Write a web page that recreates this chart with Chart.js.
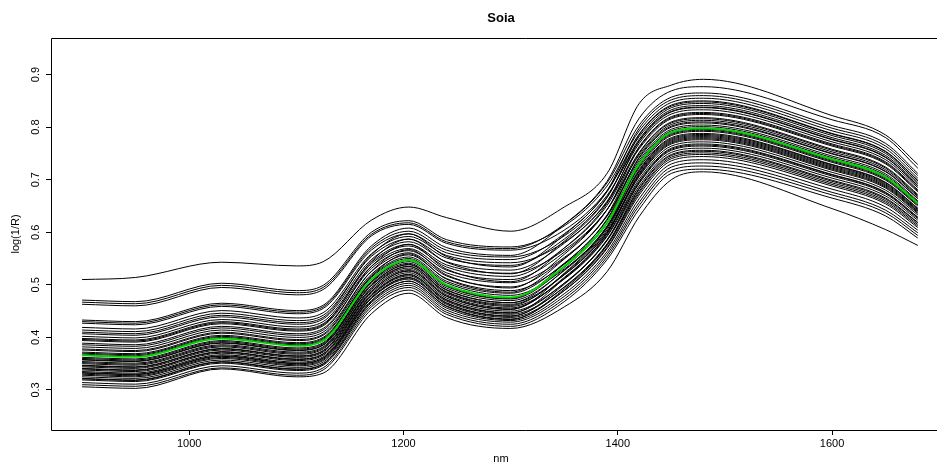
<!DOCTYPE html>
<html>
<head>
<meta charset="utf-8">
<script src="https://cdn.jsdelivr.net/npm/chart.js@4.4.1/dist/chart.umd.min.js"></script>
<style>
  html, body { margin: 0; padding: 0; background: #fff; overflow: hidden; }
  #wrap { width: 937px; height: 466px; overflow: hidden; }
</style>
</head>
<body>
<div id="wrap"><canvas id="soiaChart" width="1000" height="466"></canvas></div>
<script>
const wavelengths = [900, 950, 1030, 1100, 1125, 1170, 1205, 1240, 1300, 1350, 1390, 1420, 1450, 1480, 1600, 1650, 1680];

// green mean spectrum
const meanSpectrum = [.366, .363, .398, .384, .394, .510, .547, .500, .476, .535, .618, .730, .790, .798, .739, .705, .655];

// individual spectra, log(1/R)
const s01 = [.510, .514, .543, .536, .544, .623, .648, .628, .602, .648, .712, .845, .880, .891, .822, .785, .729];
const s02 = [.471, .468, .503, .489, .499, .600, .622, .586, .572, .612, .688, .793, .847, .855, .793, .759, .703];
const s03 = [.467, .464, .499, .485, .495, .596, .618, .582, .569, .615, .694, .804, .857, .865, .803, .769, .712];
const s04 = [.463, .460, .495, .481, .491, .593, .615, .579, .566, .604, .679, .782, .837, .845, .784, .750, .695];
const s05 = [.433, .430, .465, .451, .461, .574, .608, .571, .556, .615, .697, .817, .869, .877, .814, .780, .722];
const s06 = [.430, .427, .462, .448, .458, .570, .602, .566, .553, .593, .670, .773, .829, .837, .776, .742, .688];
const s07 = [.427, .424, .459, .445, .455, .566, .597, .561, .548, .597, .677, .787, .842, .850, .788, .754, .699];
const s08 = [.419, .416, .451, .437, .447, .559, .592, .556, .542, .581, .657, .759, .816, .824, .764, .730, .677];
const s09 = [.414, .411, .446, .432, .442, .554, .587, .551, .537, .587, .667, .777, .833, .841, .780, .746, .692];
const s10 = [.407, .404, .439, .425, .435, .548, .582, .544, .528, .579, .659, .769, .825, .833, .772, .738, .685];
const s11 = [.402, .399, .434, .420, .430, .543, .577, .538, .522, .566, .643, .747, .805, .813, .753, .719, .668];
const s12 = [.398, .395, .430, .416, .426, .540, .574, .534, .516, .570, .651, .763, .820, .828, .768, .734, .681];
const s13 = [.394, .391, .426, .412, .422, .535, .569, .528, .510, .562, .643, .752, .810, .818, .758, .724, .672];
const s14 = [.389, .386, .421, .407, .417, .531, .565, .523, .504, .552, .631, .737, .796, .804, .745, .711, .660];
const s15 = [.382, .379, .414, .400, .410, .525, .561, .517, .496, .550, .631, .741, .800, .808, .749, .715, .664];
const s16 = [.376, .373, .408, .394, .404, .520, .557, .512, .489, .539, .618, .723, .784, .792, .733, .699, .650];
const s17 = [.372, .369, .404, .390, .400, .516, .553, .507, .484, .541, .623, .733, .793, .801, .742, .708, .658];
const s18 = [.370, .367, .402, .388, .398, .514, .550, .504, .480, .530, .610, .715, .776, .784, .726, .692, .643];
const s19 = [.362, .359, .394, .380, .390, .506, .544, .497, .473, .533, .617, .730, .790, .798, .739, .705, .655];
const s20 = [.360, .357, .392, .378, .388, .504, .541, .494, .470, .527, .609, .719, .780, .788, .729, .695, .646];
const s21 = [.357, .354, .389, .375, .385, .501, .538, .490, .466, .519, .600, .706, .768, .776, .718, .684, .636];
const s22 = [.354, .351, .386, .372, .382, .498, .535, .487, .463, .519, .602, .710, .772, .780, .722, .688, .640];
const s23 = [.350, .347, .382, .368, .378, .494, .532, .484, .459, .511, .592, .697, .760, .768, .710, .676, .629];
const s24 = [.347, .344, .379, .365, .375, .491, .529, .481, .456, .512, .594, .701, .764, .772, .714, .680, .633];
const s25 = [.344, .341, .376, .362, .372, .488, .526, .478, .453, .522, .609, .728, .788, .796, .737, .703, .653];
const s26 = [.341, .338, .373, .359, .369, .485, .523, .475, .450, .503, .584, .688, .752, .760, .703, .669, .623];
const s27 = [.338, .335, .370, .356, .366, .482, .520, .472, .447, .503, .586, .693, .756, .764, .707, .673, .626];
const s28 = [.335, .332, .367, .353, .363, .479, .517, .469, .444, .495, .576, .678, .743, .751, .694, .660, .615];
const s29 = [.332, .329, .364, .350, .360, .476, .514, .466, .441, .496, .578, .684, .748, .756, .699, .665, .619];
const s30 = [.330, .327, .362, .348, .358, .474, .511, .463, .438, .489, .569, .671, .736, .744, .688, .654, .609];
const s31 = [.325, .322, .357, .343, .353, .470, .507, .460, .435, .489, .571, .675, .740, .748, .691, .657, .612];
const s32 = [.322, .319, .354, .340, .350, .466, .503, .456, .432, .483, .563, .664, .730, .738, .682, .648, .604];
const s33 = [.319, .316, .351, .337, .347, .462, .499, .452, .429, .478, .558, .657, .724, .732, .676, .642, .599];
const s34 = [.314, .311, .346, .332, .342, .458, .495, .448, .425, .473, .553, .651, .718, .726, .671, .637, .594];
const s35 = [.310, .307, .342, .328, .338, .453, .490, .444, .421, .468, .548, .644, .712, .720, .665, .631, .589];
const s36 = [.306, .303, .340, .325, .332, .445, .484, .438, .417, .458, .525, .630, .700, .715, .645, .605, .575];
const s37 = [.396, .393, .428, .414, .424, .545, .587, .543, .521, .583, .666, .785, .840, .848, .787, .753, .698];
const s38 = [.386, .383, .418, .404, .414, .535, .577, .530, .506, .570, .655, .774, .830, .838, .777, .743, .689];
const s39 = [.378, .375, .410, .396, .406, .526, .567, .519, .494, .558, .643, .761, .818, .826, .766, .732, .679];
const s40 = [.368, .365, .400, .386, .396, .517, .559, .511, .486, .549, .633, .750, .808, .816, .756, .722, .670];
const s41 = [.358, .355, .390, .376, .386, .506, .547, .499, .474, .540, .625, .743, .802, .810, .750, .716, .665];
const s42 = [.352, .349, .384, .370, .380, .499, .539, .491, .466, .528, .612, .726, .786, .794, .735, .701, .652];
const s43 = [.346, .343, .378, .364, .374, .494, .535, .486, .461, .521, .605, .717, .778, .786, .728, .694, .645];
const s44 = [.340, .337, .372, .358, .368, .487, .527, .479, .454, .514, .597, .708, .770, .778, .720, .686, .638];
const s45 = [.333, .330, .365, .351, .361, .480, .519, .471, .446, .512, .598, .712, .774, .782, .724, .690, .641];
const s46 = [.328, .325, .360, .346, .356, .474, .513, .465, .440, .501, .585, .695, .758, .766, .709, .675, .628];
const s47 = [.321, .318, .353, .339, .349, .468, .507, .459, .434, .492, .575, .682, .746, .754, .697, .663, .618];
const s48 = [.410, .407, .442, .428, .438, .557, .597, .554, .534, .595, .679, .798, .852, .860, .798, .764, .708];

const xTicks = [1000, 1200, 1400, 1600];
const yTicks = [0.3, 0.4, 0.5, 0.6, 0.7, 0.8, 0.9];

const spectra = [s01, s02, s03, s04, s05, s06, s07, s08, s09, s10, s11, s12,
  s13, s14, s15, s16, s17, s18, s19, s20, s21, s22, s23, s24,
  s25, s26, s27, s28, s29, s30, s31, s32, s33, s34, s35, s36,
  s37, s38, s39, s40, s41, s42, s43, s44, s45, s46, s47, s48];

const FONT = '"Liberation Sans", Arial, Helvetica, sans-serif';
const toPoints = (vals) => vals.map((v, i) => ({ x: wavelengths[i], y: v }));

// mean goes first so it's painted on top
const datasets = [{ data: toPoints(meanSpectrum), borderColor: '#00d400', borderWidth: 2 }]
  .concat(spectra.map((s) => ({ data: toPoints(s), borderColor: '#000', borderWidth: 1 })));

// R style frame: left, top and bottom edges (the right one is off the picture)
const boxPlugin = {
  id: 'box',
  afterDraw(chart) {
    const { ctx, chartArea: a } = chart;
    const l = Math.round(a.left) + 0.5;
    const t = Math.round(a.top) + 0.5;
    const b = Math.round(a.bottom) + 0.5;
    ctx.save();
    ctx.strokeStyle = '#000';
    ctx.lineWidth = 1;
    ctx.beginPath();
    ctx.moveTo(chart.width, t);
    ctx.lineTo(l, t);
    ctx.lineTo(l, b);
    ctx.lineTo(chart.width, b);
    ctx.stroke();
    ctx.restore();
  },
};

const axisGrid = { drawOnChartArea: false, drawTicks: true, tickLength: 5, color: '#000' };

new Chart(document.getElementById('soiaChart').getContext('2d'), {
  type: 'line',
  data: { datasets },
  plugins: [boxPlugin],
  options: {
    responsive: false,
    animation: false,
    layout: { padding: { left: 0, right: 49, top: 0, bottom: 0 } },
    elements: {
      point: { radius: 0 },
      line: { cubicInterpolationMode: 'monotone', fill: false },
    },
    plugins: {
      legend: { display: false },
      tooltip: { enabled: false },
      title: {
        display: true,
        text: 'Soia',
        fullSize: false,
        color: '#000',
        font: { family: FONT, size: 13, weight: 'bold' },
        padding: { top: 11, bottom: 11.4 },
      },
    },
    scales: {
      x: {
        type: 'linear',
        min: 871,
        max: 1711,
        afterBuildTicks: (s) => { s.ticks = xTicks.map((v) => ({ value: v })); },
        afterFit: (s) => { s.height = 36; },
        grid: axisGrid,
        border: { display: false },
        ticks: {
          color: '#000',
          font: { family: FONT, size: 11 },
          padding: 2,
          maxRotation: 0,
          autoSkip: false,
          callback: (v) => String(v),
        },
        title: { display: true, text: 'nm', color: '#000', font: { family: FONT, size: 11 }, padding: { top: 0, bottom: 0 } },
      },
      y: {
        type: 'linear',
        min: 0.2238,
        max: 0.9696,
        afterBuildTicks: (s) => { s.ticks = yTicks.map((v) => ({ value: v })); },
        afterFit: (s) => { s.width = 51; },
        grid: axisGrid,
        border: { display: false },
        ticks: {
          color: '#000',
          font: { family: FONT, size: 11 },
          padding: 2,
          minRotation: 90,
          maxRotation: 90,
          crossAlign: 'center',
          autoSkip: false,
          callback: (v) => Number(v).toFixed(1),
        },
        title: { display: true, text: 'log(1/R)', color: '#000', font: { family: FONT, size: 11 }, padding: { top: 9, bottom: 0 } },
      },
    },
  },
});
</script>
</body>
</html>
